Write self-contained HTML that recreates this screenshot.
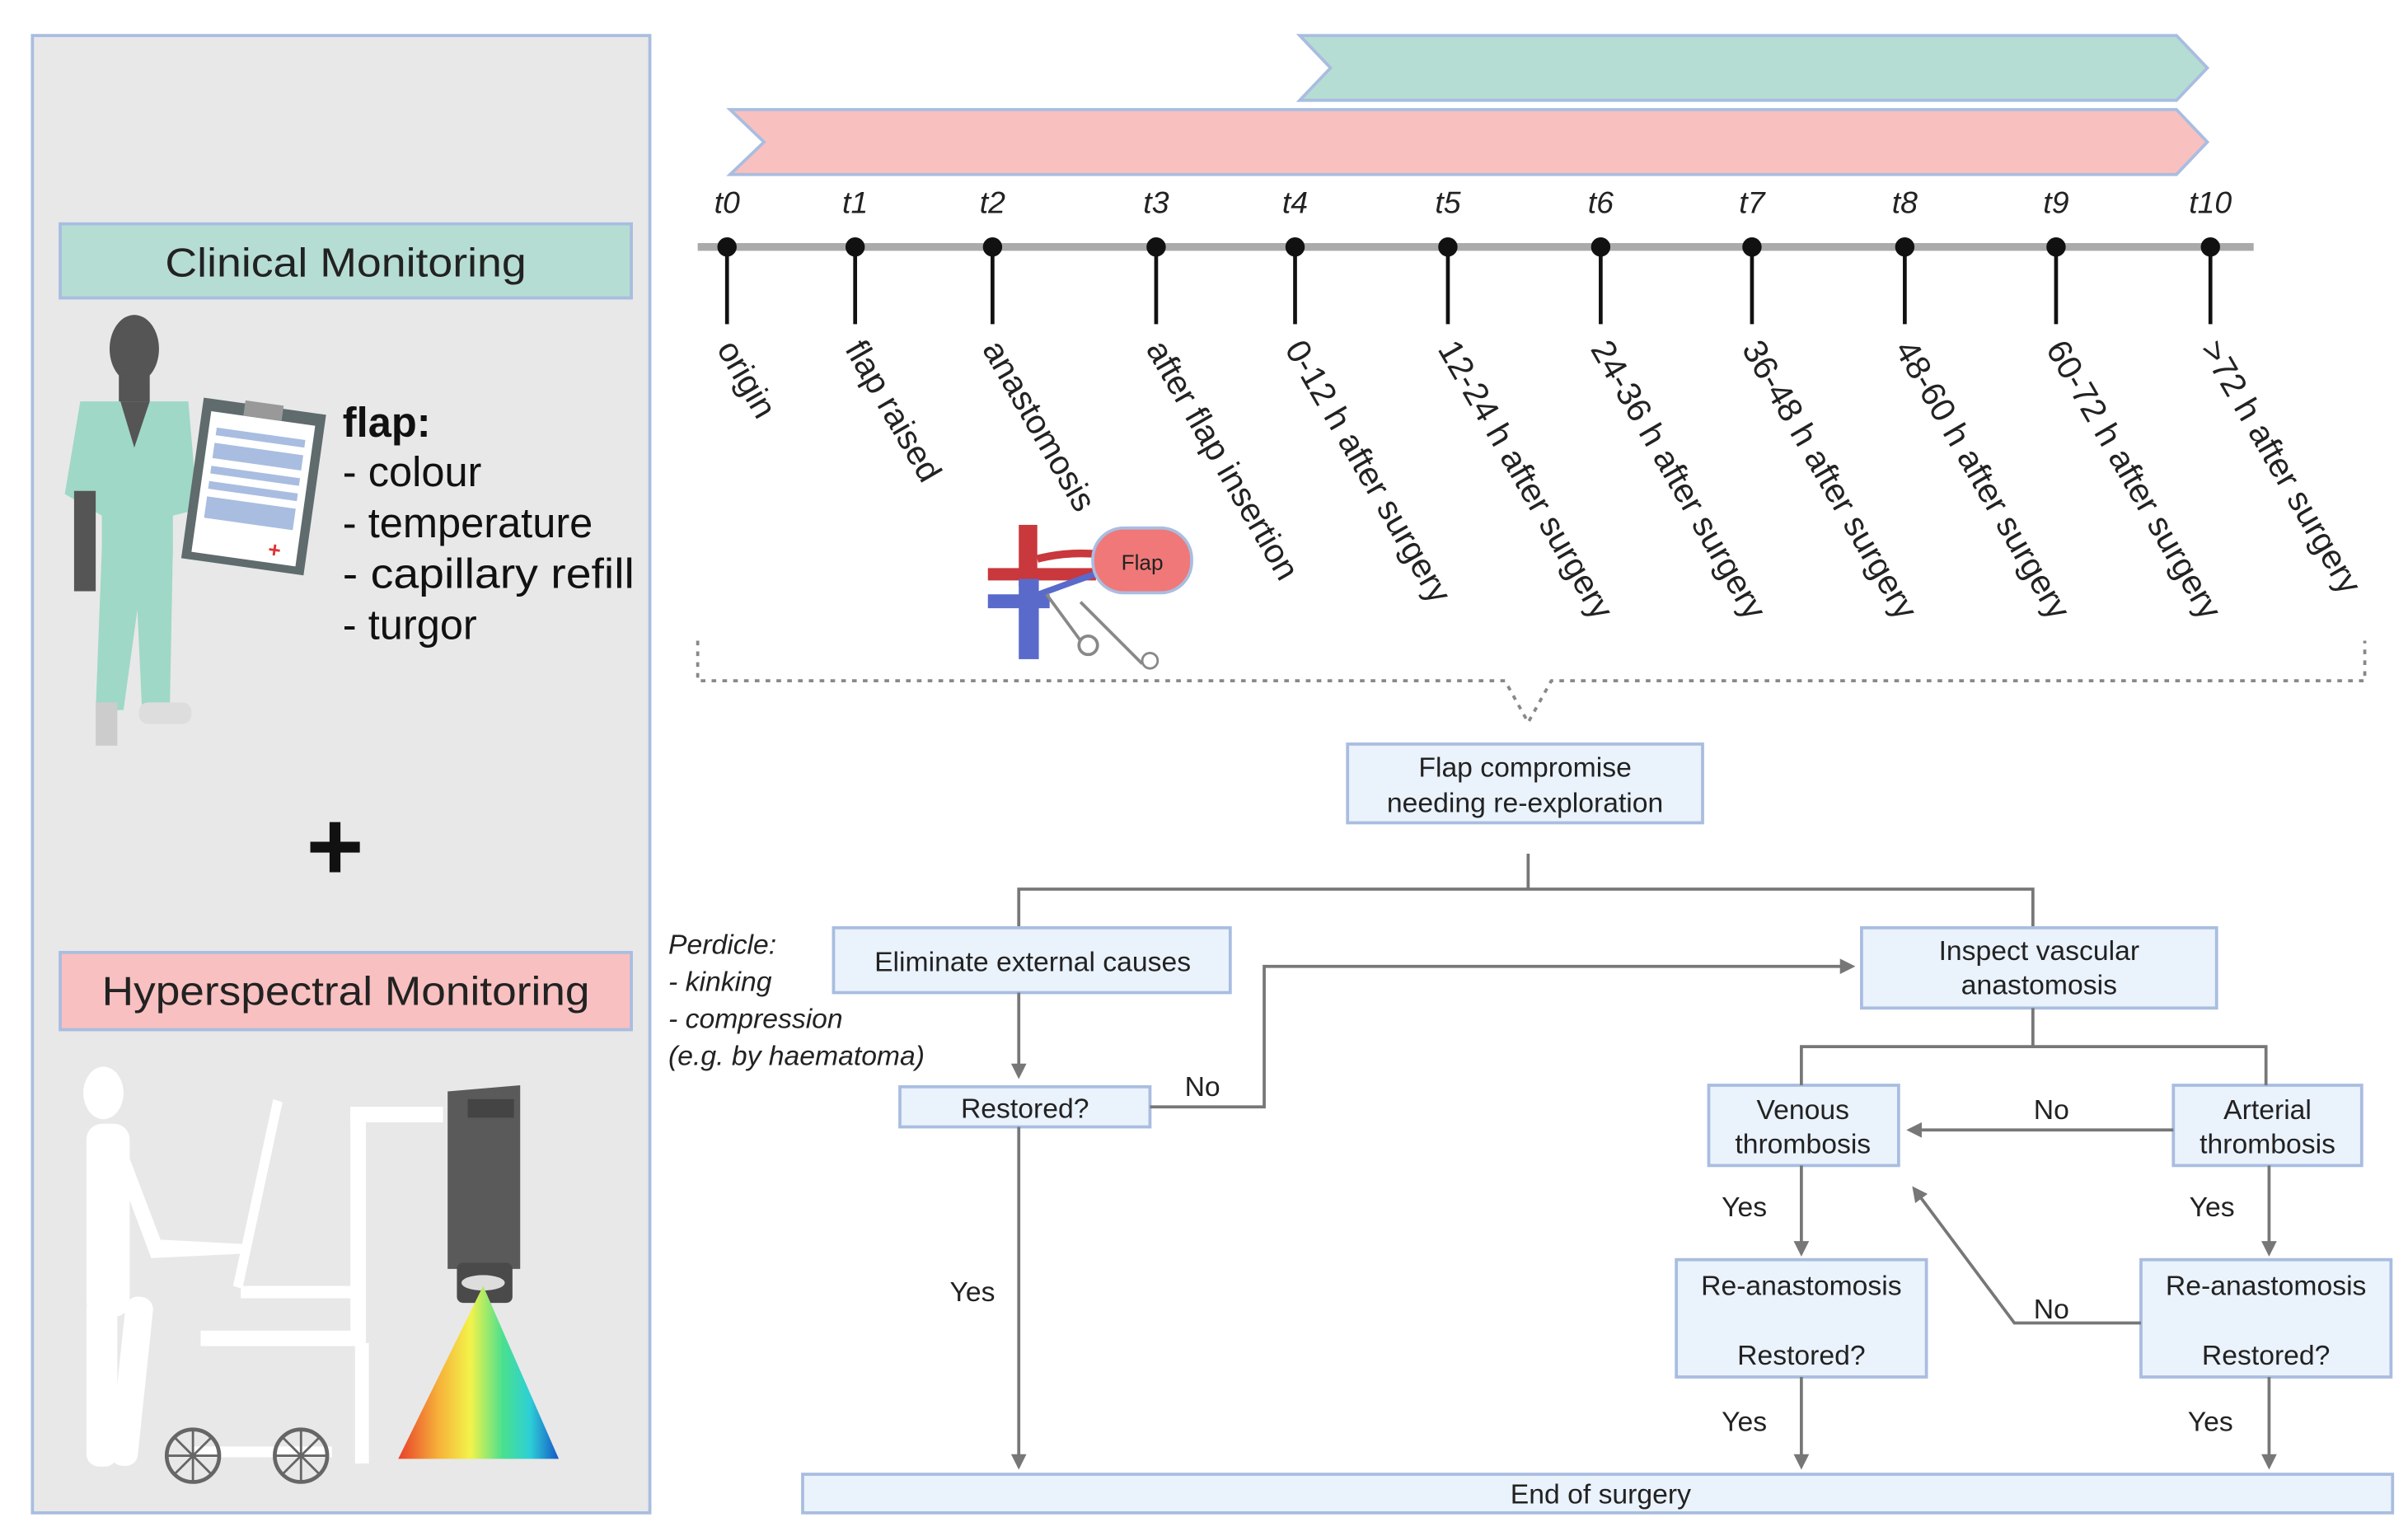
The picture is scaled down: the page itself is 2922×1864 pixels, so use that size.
<!DOCTYPE html>
<html><head><meta charset="utf-8"><style>html,body{margin:0;padding:0;background:#fff}svg{display:block}</style></head>
<body>
<svg width="2922" height="1864" viewBox="0 0 1560 995" preserveAspectRatio="none" xmlns="http://www.w3.org/2000/svg" font-family="Liberation Sans, sans-serif">
<defs>
<marker id="ar" markerWidth="10" markerHeight="10" refX="8" refY="5" orient="auto" markerUnits="userSpaceOnUse"><path d="M0,0 L10,5 L0,10 z" fill="#777"/></marker>
<linearGradient id="rb" x1="0" x2="1" y1="0" y2="0"><stop offset="0" stop-color="#e8402a"/><stop offset="0.25" stop-color="#f6b13a"/><stop offset="0.45" stop-color="#f3f34a"/><stop offset="0.65" stop-color="#4be08e"/><stop offset="0.82" stop-color="#2dd0d6"/><stop offset="1" stop-color="#1657c8"/></linearGradient>
</defs>
<rect width="1560" height="995" fill="#fff"/>
<rect x="21" y="23" width="400" height="957" fill="#e8e8e8" stroke="#a9bde0" stroke-width="2"/>
<rect x="39" y="145" width="370" height="48" fill="#b6ddd3" stroke="#a9bde0" stroke-width="2"/>
<text x="224" y="179" font-size="26" text-anchor="middle" fill="#222" textLength="234" lengthAdjust="spacingAndGlyphs">Clinical Monitoring</text>
<!-- doctor -->
<ellipse cx="87" cy="226" rx="16" ry="22" fill="#555"/>
<rect x="77" y="243" width="20" height="22" fill="#555"/>
<path d="M52,260 L122,260 L128,330 L112,334 L112,360 L66,360 L66,334 L42,320 Z" fill="#9fd8c6"/>
<path d="M78,260 L87,290 L97,260 Z" fill="#555"/>
<path d="M66,355 L112,355 L110,460 L92,460 L89,395 L80,460 L62,460 Z" fill="#9fd8c6"/>
<rect x="48" y="318" width="14" height="65" fill="#555"/>
<rect x="62" y="455" width="14" height="28" fill="#ccc"/><rect x="90" y="455" width="34" height="14" rx="6" fill="#ddd"/>
<g transform="rotate(8 160 310)"><rect x="125" y="262" width="80" height="105" fill="#5f6b6c"/><rect x="131" y="270" width="68" height="92" fill="#fff"/>
<rect x="152" y="260" width="25" height="10" fill="#999"/>
<rect x="136" y="280" width="58" height="5" fill="#a8bde0"/><rect x="136" y="290" width="58" height="10" fill="#a8bde0"/><rect x="136" y="305" width="58" height="5" fill="#a8bde0"/><rect x="136" y="315" width="58" height="5" fill="#a8bde0"/><rect x="136" y="325" width="58" height="14" fill="#a8bde0"/><text x="180" y="358" font-size="14" fill="#d33" font-weight="bold">+</text></g>
<text x="222" y="283" font-size="27" font-weight="bold" fill="#111">flap:</text>
<text x="222" y="315" font-size="27" fill="#111">- colour</text>
<text x="222" y="348" font-size="27" fill="#111">- temperature</text>
<text x="222" y="381" font-size="27" fill="#111" textLength="189" lengthAdjust="spacingAndGlyphs">- capillary refill</text>
<text x="222" y="414" font-size="27" fill="#111">- turgor</text>
<text x="217" y="570" font-size="64" font-weight="bold" text-anchor="middle" fill="#111">+</text>
<rect x="39" y="617" width="370" height="50" fill="#f8c0c0" stroke="#a9bde0" stroke-width="2"/>
<text x="224" y="651" font-size="26" text-anchor="middle" fill="#222" textLength="316" lengthAdjust="spacingAndGlyphs">Hyperspectral Monitoring</text>
<g fill="#fff" stroke="none">
<ellipse cx="67" cy="708" rx="13" ry="17"/>
<rect x="56" y="728" width="28" height="125" rx="10"/>
<rect x="56" y="840" width="20" height="110" rx="8"/><rect x="82" y="840" width="18" height="110" rx="8" transform="rotate(6 90 840)"/>
<path d="M70,740 L98,815 L160,812 L160,806 L104,803 L80,740 Z"/>
<rect x="130" y="862" width="105" height="10"/>
<rect x="227" y="717" width="10" height="153"/><rect x="227" y="717" width="60" height="10"/>
<rect x="156" y="833" width="78" height="8"/>
<rect x="230" y="870" width="9" height="78"/>
<rect x="125" y="937" width="90" height="7"/>
<path d="M177,712 L183,714 L157,835 L151,833Z"/>
</g>
<g stroke="#666" stroke-width="2.5" fill="none"><circle cx="125" cy="943" r="17"/><circle cx="195" cy="943" r="17"/>
<path d="M108,943h34M125,926v34M113,931l24,24M137,931l-24,24M178,943h34M195,926v34M183,931l24,24M207,931l-24,24" stroke-width="1.5"/></g>
<path d="M290,707 L337,703 L337,822 L290,822 Z" fill="#5a5a5a"/><rect x="303" y="712" width="30" height="12" fill="#444"/>
<rect x="296" y="818" width="36" height="26" rx="4" fill="#4a4a4a"/><ellipse cx="313" cy="831" rx="14" ry="5" fill="#ddd"/>
<polygon points="313,833 258,945 362,945" fill="url(#rb)"/>
<polygon points="842,23 1410,23 1430,44 1410,65 842,65 862,44" fill="#b6ddd3" stroke="#a9bde0" stroke-width="2"/>
<polygon points="473,71 1410,71 1430,92 1410,113 473,113 495,92" fill="#f9c0c0" stroke="#a9bde0" stroke-width="2"/>
<line x1="452" y1="160" x2="1460" y2="160" stroke="#aaa" stroke-width="5"/>
<g font-size="20" font-style="italic" fill="#222" text-anchor="middle">
<text x="471" y="138">t0</text><text x="554" y="138">t1</text><text x="643" y="138">t2</text><text x="749" y="138">t3</text><text x="839" y="138">t4</text><text x="938" y="138">t5</text><text x="1037" y="138">t6</text><text x="1135" y="138">t7</text><text x="1234" y="138">t8</text><text x="1332" y="138">t9</text><text x="1432" y="138">t10</text></g>
<g stroke="#111" stroke-width="2.5" fill="#111">
<line x1="471" y1="160" x2="471" y2="210"/><circle cx="471" cy="160" r="5"/>
<line x1="554" y1="160" x2="554" y2="210"/><circle cx="554" cy="160" r="5"/>
<line x1="643" y1="160" x2="643" y2="210"/><circle cx="643" cy="160" r="5"/>
<line x1="749" y1="160" x2="749" y2="210"/><circle cx="749" cy="160" r="5"/>
<line x1="839" y1="160" x2="839" y2="210"/><circle cx="839" cy="160" r="5"/>
<line x1="938" y1="160" x2="938" y2="210"/><circle cx="938" cy="160" r="5"/>
<line x1="1037" y1="160" x2="1037" y2="210"/><circle cx="1037" cy="160" r="5"/>
<line x1="1135" y1="160" x2="1135" y2="210"/><circle cx="1135" cy="160" r="5"/>
<line x1="1234" y1="160" x2="1234" y2="210"/><circle cx="1234" cy="160" r="5"/>
<line x1="1332" y1="160" x2="1332" y2="210"/><circle cx="1332" cy="160" r="5"/>
<line x1="1432" y1="160" x2="1432" y2="210"/><circle cx="1432" cy="160" r="5"/>
</g>
<g font-size="22" fill="#222">
<text transform="translate(464,226) rotate(60)">origin</text>
<text transform="translate(547,226) rotate(60)">flap raised</text>
<text transform="translate(636,226) rotate(60)">anastomosis</text>
<text transform="translate(742,226) rotate(60)">after flap insertion</text>
<text transform="translate(832,226) rotate(60)">0-12 h after surgery</text>
<text transform="translate(931,226) rotate(60)">12-24 h after surgery</text>
<text transform="translate(1030,226) rotate(60)">24-36 h after surgery</text>
<text transform="translate(1128,226) rotate(60)">36-48 h after surgery</text>
<text transform="translate(1227,226) rotate(60)">48-60 h after surgery</text>
<text transform="translate(1325,226) rotate(60)">60-72 h after surgery</text>
<text transform="translate(1425,226) rotate(60)">&gt;72 h after surgery</text>
</g>
<rect x="640" y="368" width="70" height="8" fill="#c8383c"/><rect x="660" y="340" width="12" height="40" fill="#c8383c"/>
<path d="M672,362 Q700,355 730,362" stroke="#c8383c" stroke-width="5" fill="none"/>
<rect x="640" y="385" width="40" height="9" fill="#5a6acb"/><rect x="660" y="375" width="13" height="52" fill="#5a6acb"/>
<path d="M673,385 Q700,375 715,370" stroke="#5a6acb" stroke-width="4" fill="none"/>
<rect x="708" y="342" width="64" height="42" rx="20" fill="#f07878" stroke="#a9bde0" stroke-width="2"/>
<text x="740" y="369" font-size="14" text-anchor="middle" fill="#222">Flap</text>
<path d="M678,385 L700,415 M700,390 L740,430" stroke="#888" stroke-width="2" fill="none"/>
<circle cx="705" cy="418" r="6" fill="none" stroke="#888" stroke-width="2"/><circle cx="745" cy="428" r="5" fill="none" stroke="#888" stroke-width="1.5"/>
<path d="M452,415 L452,441 L975,441 L990,468 L1005,441 L1532,441 L1532,415" fill="none" stroke="#888" stroke-width="2" stroke-dasharray="3,4"/>
<g fill="#eaf2fc" stroke="#a9bde0" stroke-width="2">
<rect x="873" y="482" width="230" height="51"/>
<rect x="540" y="601" width="257" height="42"/>
<rect x="583" y="704" width="162" height="26"/>
<rect x="1206" y="601" width="230" height="52"/>
<rect x="1107" y="703" width="123" height="52"/>
<rect x="1408" y="703" width="122" height="52"/>
<rect x="1086" y="816" width="162" height="76"/>
<rect x="1387" y="816" width="162" height="76"/>
<rect x="520" y="955" width="1030" height="25"/>
</g>
<g font-size="18" fill="#222" text-anchor="middle">
<text x="988" y="503">Flap compromise</text><text x="988" y="526">needing re-exploration</text>
<text x="669" y="629">Eliminate external causes</text>
<text x="664" y="724">Restored?</text>
<text x="1321" y="622">Inspect vascular</text><text x="1321" y="644">anastomosis</text>
<text x="1168" y="725">Venous</text><text x="1168" y="747">thrombosis</text>
<text x="1469" y="725">Arterial</text><text x="1469" y="747">thrombosis</text>
<text x="1167" y="839">Re-anastomosis</text><text x="1167" y="884">Restored?</text>
<text x="1468" y="839">Re-anastomosis</text><text x="1468" y="884">Restored?</text>
<text x="1037" y="974">End of surgery</text>
<text x="779" y="710">No</text><text x="1329" y="725">No</text><text x="1329" y="854">No</text>
<text x="630" y="843">Yes</text><text x="1130" y="788">Yes</text><text x="1433" y="788">Yes</text><text x="1130" y="927">Yes</text><text x="1432" y="927">Yes</text>
</g>
<g font-size="18" font-style="italic" fill="#222">
<text x="433" y="618">Perdicle:</text><text x="433" y="642">- kinking</text><text x="433" y="666">- compression</text><text x="433" y="690">(e.g. by haematoma)</text>
</g>
<g stroke="#777" stroke-width="2" fill="none">
<path d="M990,553 V576 M660,600 V576 H1317 V600"/>
<path d="M660,643 V697" marker-end="url(#ar)"/>
<path d="M745,717 H819 V626 H1200" marker-end="url(#ar)"/>
<path d="M1317,653 V678 M1167,703 V678 H1468 V703"/>
<path d="M1408,732 H1237" marker-end="url(#ar)"/>
<path d="M1167,755 V812" marker-end="url(#ar)"/>
<path d="M1470,755 V812" marker-end="url(#ar)"/>
<path d="M1387,857 H1305 L1240,770" marker-end="url(#ar)"/>
<path d="M1167,892 V950" marker-end="url(#ar)"/>
<path d="M1470,892 V950" marker-end="url(#ar)"/>
<path d="M660,730 V950" marker-end="url(#ar)"/>
</g>
</svg>
</body></html>
